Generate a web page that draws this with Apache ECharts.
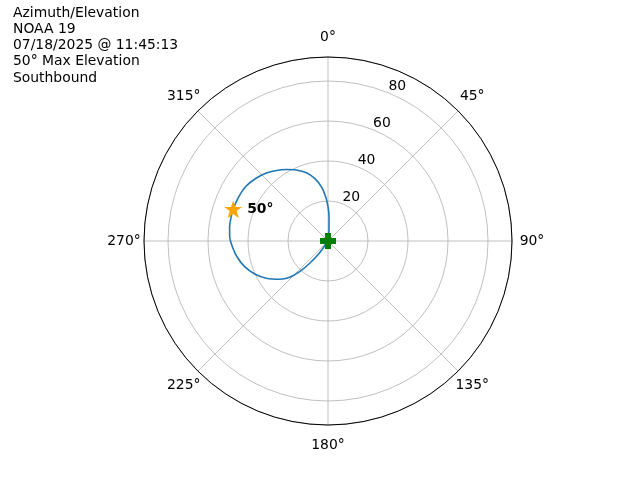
<!DOCTYPE html>
<html>
<head>
<meta charset="utf-8">
<script src="https://cdn.jsdelivr.net/npm/echarts@6/dist/echarts.min.js"></script>
<style>
html,body{margin:0;padding:0;background:#fff;}
#chart{width:640px;height:480px;}
</style>
</head>
<body>
<div id="chart"></div>
<script>
// ---- data ----
const titleLines = ['Azimuth/Elevation', 'NOAA 19', '07/18/2025 @ 11:45:13', '50° Max Elevation', 'Southbound'];
const passAzimuth   = [0, 5.2, 2.4, 0, 357.0, 353.1, 348.0, 342.5, 336.0, 329.8, 323.8, 317.8, 310.8, 303.5, 296.1, 288.5, 284.0, 278.2, 272.5, 266.6, 260.2, 252.9, 245.8, 238.8, 231.6, 226.5, 222.7, 219.4, 215.4, 215];
const passElevation = [0, 5.5, 12.2, 17.2, 22.2, 27.3, 32.0, 35.8, 38.9, 41.4, 43.7, 45.9, 47.8, 49.35, 49.8, 50.0, 49.9, 49.7, 49.2, 47.9, 46.2, 43.6, 40.2, 36.0, 30.8, 26.4, 20.9, 14.4, 7.2, 0];
const maxAzimuth = 288.5;
const maxElevation = 50;
const startEnd = [[0, 0], [0, 215]];
const radiusTicks = [20, 40, 60, 80];
const angleTicks = [0, 45, 90, 135, 180, 225, 270, 315];
const radiusMax = 92;
const radiusLabelAngle = 22.5;

const FONT = 'DejaVu Sans';
const chart = echarts.init(document.getElementById('chart'), null, {renderer: 'canvas'});

const starPath = 'path://M50,0 L61.8,35.4 L100,35.4 L69.1,57.3 L80.9,95.1 L50,72.4 L19.1,95.1 L30.9,57.3 L0,35.4 L38.2,35.4 Z';
const plusPath = 'path://M32,0 H68 V32 H100 V68 H68 V100 H32 V68 H0 V32 H32 Z';

const textLabel = {fontFamily: FONT, fontSize: 13.9, color: '#000', opacity: 1, textBorderWidth: 0, textBorderColor: 'transparent'};

const option = {
  animation: false,
  backgroundColor: '#fff',
  title: {
    text: titleLines.join('\n'),
    left: 13, top: 5, padding: 0,
    textStyle: {fontFamily: FONT, fontSize: 13.9, fontWeight: 'normal', color: '#000', lineHeight: 16.2}
  },
  polar: {center: [328, 241], radius: 184},
  angleAxis: {
    type: 'value', min: 0, max: 360, interval: 45, startAngle: 90, clockwise: true,
    axisLine: {show: true, lineStyle: {color: '#000', width: 1}},
    axisTick: {show: false},
    axisLabel: {show: false},
    splitLine: {show: true, lineStyle: {color: '#b0b0b0', width: 0.8}}
  },
  radiusAxis: {
    type: 'value', min: 0, max: radiusMax, interval: 20,
    axisLine: {show: false}, axisTick: {show: false}, axisLabel: {show: false},
    splitLine: {show: true, lineStyle: {color: '#b0b0b0', width: 0.8}}
  },
  series: [
    {
      type: 'line', coordinateSystem: 'polar', smooth: 0.25, symbol: 'none',
      lineStyle: {color: '#1f77b4', width: 1.6},
      data: passElevation.map((e, i) => [e, passAzimuth[i]]),
      z: 3
    },
    {
      type: 'scatter', coordinateSystem: 'polar', symbol: starPath, symbolSize: 18,
      itemStyle: {color: '#ffa500', opacity: 1},
      data: [[maxElevation, maxAzimuth]],
      label: Object.assign({show: true, position: 'right', distance: 5, formatter: maxElevation + '°',
        fontWeight: 'bold'}, textLabel),
      z: 4
    },
    {
      type: 'scatter', coordinateSystem: 'polar', symbol: plusPath, symbolSize: 16,
      itemStyle: {color: '#008000', opacity: 1},
      data: startEnd, z: 5
    },
    {
      type: 'scatter', coordinateSystem: 'polar', symbolSize: 0, silent: true,
      itemStyle: {color: '#000', opacity: 1},
      data: radiusTicks.map(r => [r, radiusLabelAngle]),
      label: Object.assign({show: true, position: [0, 0], align: 'center', verticalAlign: 'middle',
        offset: [8, -7], formatter: p => String(p.value[0])}, textLabel),
      z: 6
    },
    {
      type: 'scatter', coordinateSystem: 'polar', symbolSize: 0, silent: true,
      itemStyle: {color: '#000', opacity: 1},
      data: angleTicks.map(a => ({
        value: [radiusMax, a],
        label: {offset: [20 * Math.sin(a * Math.PI / 180), -20 * Math.cos(a * Math.PI / 180)]}
      })),
      label: Object.assign({show: true, position: [0, 0], align: 'center', verticalAlign: 'middle',
        formatter: p => p.value[1] + '°'}, textLabel),
      z: 6
    }
  ]
};
chart.setOption(option);
</script>
</body>
</html>
